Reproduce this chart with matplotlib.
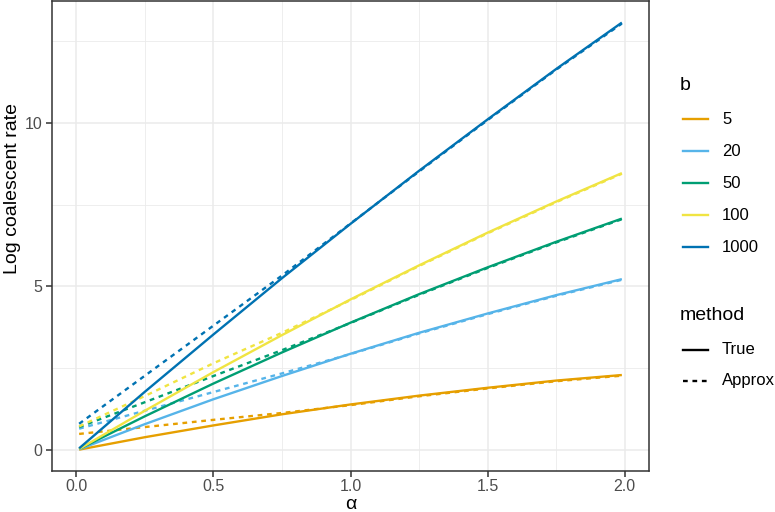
import numpy as np
import matplotlib
matplotlib.use("Agg")
import matplotlib.pyplot as plt
from matplotlib.lines import Line2D
from matplotlib.ticker import MultipleLocator

plt.rcParams['font.family'] = ['Liberation Sans', 'DejaVu Sans']

# values
alpha = [0.01, 0.25, 0.5, 0.75, 1.0, 1.25, 1.5, 1.75, 1.99]
b_levels = ["5", "20", "50", "100", "1000"]
true_rate = {
    "5":    [0.01, 0.39, 0.75, 1.09, 1.39, 1.66, 1.90, 2.12, 2.29],
    "20":   [0.02, 0.79, 1.55, 2.26, 2.94, 3.58, 4.17, 4.73, 5.22],
    "50":   [0.03, 1.03, 2.03, 2.98, 3.89, 4.76, 5.58, 6.36, 7.07],
    "100":  [0.03, 1.20, 2.38, 3.51, 4.60, 5.64, 6.64, 7.59, 8.46],
    "1000": [0.05, 1.78, 3.53, 5.25, 6.91, 8.53, 10.10, 11.64, 13.06],
}
approx_rate = {
    "5":    [0.49, 0.70, 0.92, 1.13, 1.37, 1.64, 1.88, 2.10, 2.27],
    "20":   [0.65, 1.20, 1.77, 2.34, 2.93, 3.56, 4.15, 4.71, 5.20],
    "50":   [0.70, 1.46, 2.26, 3.05, 3.88, 4.74, 5.56, 6.34, 7.05],
    "100":  [0.72, 1.65, 2.65, 3.58, 4.58, 5.62, 6.62, 7.57, 8.44],
    "1000": [0.80, 2.27, 3.80, 5.33, 6.92, 8.51, 10.08, 11.62, 13.03],
}
colors = ["#E69F00", "#56B4E9", "#009E73", "#F0E442", "#0072B2"]

W, H = 775, 512
fig = plt.figure(figsize=(W / 100, H / 100), dpi=100)
ax = fig.add_axes([52 / W, 41 / H, 597 / W, 470 / H])

dash = (0, (2.0, 2.0))
for b, c in zip(b_levels, colors):
    ax.plot(alpha, true_rate[b], color=c, lw=1.7, solid_capstyle='butt')
    ax.plot(alpha, approx_rate[b], color=c, lw=1.7, linestyle=dash)

# theme_bw look
ax.set_xlim(-0.089, 2.089)
ax.set_ylim(-0.643, 13.72)
ax.xaxis.set_major_locator(MultipleLocator(0.5))
ax.xaxis.set_minor_locator(MultipleLocator(0.25))
ax.yaxis.set_major_locator(MultipleLocator(5))
ax.yaxis.set_minor_locator(MultipleLocator(2.5))
ax.xaxis.set_major_formatter(plt.FuncFormatter(lambda v, p: f"{v:.1f}"))
ax.yaxis.set_major_formatter(plt.FuncFormatter(lambda v, p: f"{v:.0f}"))
ax.grid(which='major', color='#EBEBEB', lw=1.1)
ax.grid(which='minor', color='#EBEBEB', lw=0.6)
ax.set_axisbelow(True)
for s in ax.spines.values():
    s.set_color('#333333')
    s.set_linewidth(1.1)
ax.tick_params(which='major', length=4, width=1.1, color='#333333',
               labelsize=11.5, labelcolor='#4D4D4D', pad=3)
ax.tick_params(axis='x', which='major', pad=2)
ax.tick_params(which='minor', length=0)

ax.set_xlabel("α", fontsize=14)
ax.xaxis.label.set_va('baseline')
ax.xaxis.set_label_coords(0.5, (H - 509 - 41) / 470)
ax.set_ylabel("Log coalescent rate", fontsize=14)
ax.yaxis.set_label_coords((21 - 52) / 597, (H - 188 - 41) / 470)


def fx(px):
    return px / W


def fy(py):
    return 1 - py / H


# legends drawn by hand, ggplot style
fig.text(fx(680), fy(85), "b", fontsize=14, va='center', ha='left')
row_y = [119, 151, 183, 215, 247]
for lab, c, y in zip(b_levels, colors, row_y):
    fig.add_artist(Line2D([fx(683), fx(708)], [fy(y), fy(y)], color=c, lw=1.7,
                          transform=fig.transFigure))
    fig.text(fx(722), fy(y), lab, fontsize=12, va='center', ha='left')

fig.text(fx(680), fy(315), "method", fontsize=14, va='center', ha='left')
for lab, ls, y in zip(["True", "Approx"], ['-', dash], [350, 381]):
    fig.add_artist(Line2D([fx(683), fx(708)], [fy(y), fy(y)], color='black',
                          lw=1.7, linestyle=ls, transform=fig.transFigure))
    fig.text(fx(722), fy(y), lab, fontsize=12, va='center', ha='left')

fig.savefig("out.png", dpi=100)
